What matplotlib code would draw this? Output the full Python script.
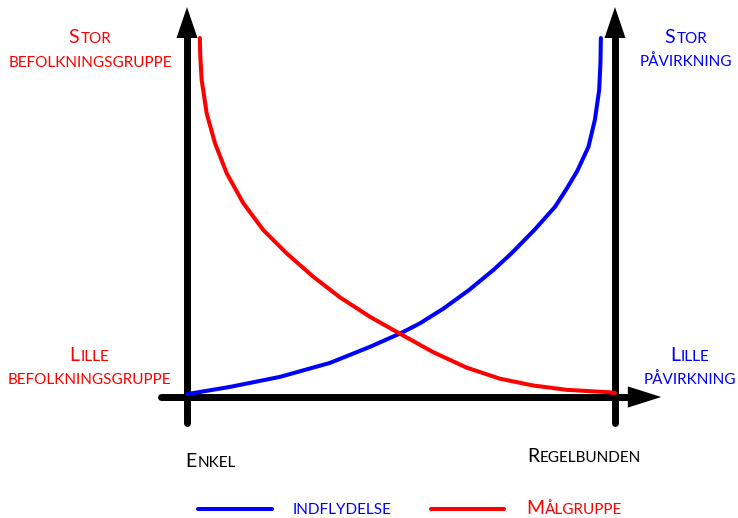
import matplotlib
matplotlib.use("Agg")
import matplotlib.pyplot as plt
from matplotlib.lines import Line2D

# curves, x: 0 = enkel .. 100 = regelbunden, y: 0 = lille .. 100 = stor
red_x = [3.0, 3.1, 3.43, 4.6, 6.54, 9.28, 13.15, 17.83, 23.29, 29.5, 35.7, 42.8, 49.8,
         57.5, 65.3, 73.1, 80.9, 88.7, 98.8, 100]
red_y = [100, 95.0, 88.3, 79.0, 70.7, 62.3, 54.0, 46.5, 40.0, 33.5, 27.8, 22.3, 17.6,
         12.5, 8.2, 5.1, 3.2, 2.0, 1.3, 1.1]
blue_x = [0, 10.0, 21.7, 33.4, 42.8, 49.8, 54.4, 60.0, 65.9, 71.7, 75.8, 81.3, 86.0,
          88.8, 91.2, 93.8, 95.3, 96.3, 96.6, 96.7]
blue_y = [0.8, 2.8, 5.6, 9.5, 14.0, 17.7, 20.5, 24.7, 29.8, 35.5, 40.0, 46.7, 53.0,
          58.2, 63.0, 69.7, 77.2, 85.5, 93.0, 100]

legend_labels = ["Indflydelse", "Målgruppe"]
RED = "#ff0000"
BLUE = "#0000ff"

W, H = 738, 518
X0, PX = 187, 4.28   # pixel of x=0, pixels per unit
Y0, PY = 397, 3.59

plt.rcParams['font.family'] = ['Lato', 'DejaVu Sans']

fig = plt.figure(figsize=(W / 100, H / 100), dpi=100)
ax = fig.add_axes([0, 0, 1, 1])
ax.set_xlim(-X0 / PX, (W - X0) / PX)
ax.set_ylim(-(H - Y0) / PY, Y0 / PY)
ax.axis('off')

# axes with arrows
lw_ax = 5
ax.plot([-6.1, 104], [0, 0], color='k', lw=lw_ax, solid_capstyle='round')
ax.arrow(103, 0, 7.8, 0, width=0, head_width=5.9, head_length=7.8,
         length_includes_head=True, color='k', lw=0)
for xa in [0, 100]:
    ax.plot([xa, xa], [-7.2, 101], color='k', lw=lw_ax, solid_capstyle='round')
    ax.arrow(xa, 99.5, 0, 9.1, width=0, head_width=4.9, head_length=8.6,
             length_includes_head=True, color='k', lw=0)

ax.plot(blue_x, blue_y, color=BLUE, lw=2.9, solid_capstyle='round', solid_joinstyle='round')
ax.plot(red_x, red_y, color=RED, lw=2.9, solid_capstyle='round', solid_joinstyle='round')

renderer = fig.canvas.get_renderer()
BIG, SMALL = 14, 11


def sc_text(px, py, first, rest, color, ha='center', small=SMALL):
    parts = []
    if first:
        parts.append(fig.text(0, 0, first, size=BIG, color=color, va='baseline', ha='left'))
    parts.append(fig.text(0, 0, rest.upper(), size=small, color=color, va='baseline', ha='left'))
    widths = [p.get_window_extent(renderer).width for p in parts]
    total = sum(widths) + 1 * (len(parts) - 1)
    left = px - total / 2 if ha == 'center' else px
    for p, w in zip(parts, widths):
        p.set_position((left / W, 1 - py / H))
        left += w + 1


sc_text(90, 43, "S", "tor", RED)
sc_text(90, 67, "", "befolkningsgruppe", RED)
sc_text(89, 361, "L", "ille", RED)
sc_text(89, 384, "", "befolkningsgruppe", RED)
sc_text(686, 43, "S", "tor", BLUE)
sc_text(686, 66, "", "påvirkning", BLUE)
sc_text(690, 361, "L", "ille", BLUE)
sc_text(690, 384, "", "påvirkning", BLUE)
sc_text(211, 467, "E", "nkel", 'k')
sc_text(584, 462, "R", "egelbunden", 'k')

# legend
for (x1, x2), c in zip([(198, 272), (431, 504)], [BLUE, RED]):
    fig.add_artist(Line2D([x1 / W, x2 / W], [1 - 509 / H] * 2, color=c, lw=2.9,
                          solid_capstyle='round', transform=fig.transFigure))
sc_text(293, 514, "", legend_labels[0], BLUE, ha='left', small=11)
sc_text(526, 514, legend_labels[1][0], legend_labels[1][1:], RED, ha='left', small=11)

fig.savefig("out.png", dpi=100)
